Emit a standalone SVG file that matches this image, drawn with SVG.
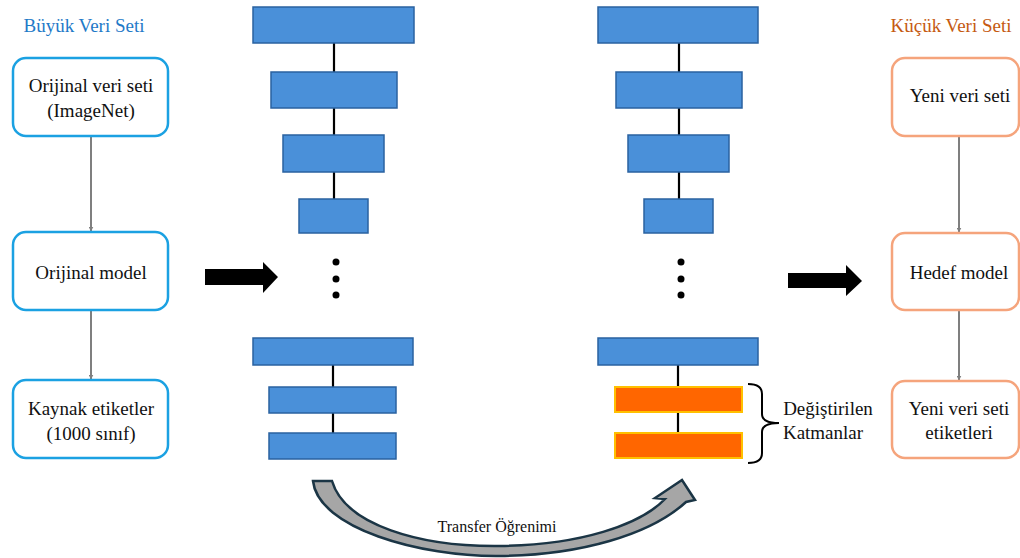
<svg xmlns="http://www.w3.org/2000/svg" width="1020" height="558" viewBox="0 0 1020 558">
<defs>
<marker id="ah" viewBox="0 0 10 10" refX="9" refY="5" markerWidth="5" markerHeight="5" orient="auto" markerUnits="userSpaceOnUse">
<path d="M0,0 L10,5 L0,10 z" fill="#7f7f7f"/>
</marker>
</defs>
<style>
text{font-family:"Liberation Serif","Times New Roman",serif;fill:#111;text-anchor:middle}
.t{font-size:19px}
.bl{fill:#fff;stroke:#1ba1e2;stroke-width:2.5}
.or{fill:#fff;stroke:#f5a47c;stroke-width:2.5}
.conn{stroke:#7f7f7f;stroke-width:2;fill:none}
.layer{fill:#4a90d9;stroke:#2a62a0;stroke-width:1.5}
.mod{fill:#ff6600;stroke:#ffc000;stroke-width:2}
.link{stroke:#000;stroke-width:2.2}
</style>
<rect width="1020" height="558" fill="#fff"/>

<text x="84" y="32" class="t" style="fill:#1f7ac8">Büyük Veri Seti</text>
<text x="951" y="32" class="t" style="fill:#c55a11">Küçük Veri Seti</text>

<g id="connectors">
<line x1="91" y1="137" x2="91" y2="231" class="conn" marker-end="url(#ah)"/>
<line x1="91" y1="311" x2="91" y2="379" class="conn" marker-end="url(#ah)"/>
<line x1="959" y1="137" x2="959" y2="232" class="conn" marker-end="url(#ah)"/>
<line x1="959" y1="311" x2="959" y2="380" class="conn" marker-end="url(#ah)"/>
<line x1="334" y1="43" x2="334" y2="72" class="link"/>
<line x1="334" y1="108" x2="334" y2="135" class="link"/>
<line x1="334" y1="172" x2="334" y2="199" class="link"/>
<line x1="333" y1="365" x2="333" y2="387" class="link"/>
<line x1="333" y1="413" x2="333" y2="433" class="link"/>
<line x1="679" y1="43" x2="679" y2="72" class="link"/>
<line x1="679" y1="108" x2="679" y2="135" class="link"/>
<line x1="679" y1="172" x2="679" y2="199" class="link"/>
<line x1="678" y1="365" x2="678" y2="387" class="link"/>
<line x1="678" y1="412" x2="678" y2="433" class="link"/>
<polygon points="205,269 263,269 263,262 278,277 263,293 263,285 205,285" fill="#000"/>
<polygon points="788,273 846,273 846,265 862,281 846,296 846,288 788,288" fill="#000"/>
<path d="M313,481 C318,528 420,557 500,556 C580,555 650,535 686,502 L695,500 L682,480 L655,498 L665,499 C640,525 580,545 500,546 C420,547 345,525 332,481 Z" fill="#a6a6a6" stroke="#1b3545" stroke-width="2.5" stroke-linejoin="miter"/>
<text x="497" y="532" style="font-size:16px">Transfer Öğrenimi</text>
</g>

<g id="n-orijinal-veri">
<rect x="13" y="58" width="155" height="78" rx="13" class="bl"/>
<text x="91" y="92" class="t">Orijinal veri seti</text>
<text x="91" y="117" class="t">(ImageNet)</text>
</g>
<g id="n-orijinal-model">
<rect x="13" y="232" width="155" height="78" rx="13" class="bl"/>
<text x="91" y="279" class="t">Orijinal model</text>
</g>
<g id="n-kaynak">
<rect x="13" y="380" width="155" height="78" rx="13" class="bl"/>
<text x="91" y="415" class="t">Kaynak etiketler</text>
<text x="91" y="440" class="t">(1000 sınıf)</text>
</g>

<g id="n-source-net">
<rect x="253" y="7" width="161" height="36" class="layer"/>
<rect x="271" y="72" width="126" height="36" class="layer"/>
<rect x="283" y="135" width="101" height="37" class="layer"/>
<rect x="299" y="199" width="69" height="34" class="layer"/>
<circle cx="336" cy="262" r="3.5" fill="#000"/>
<circle cx="336" cy="279" r="3.5" fill="#000"/>
<circle cx="336" cy="295" r="3.5" fill="#000"/>
<rect x="253" y="338" width="160" height="27" class="layer"/>
<rect x="269" y="387" width="127" height="26" class="layer"/>
<rect x="269" y="433" width="127" height="26" class="layer"/>
</g>

<g id="n-target-net">
<rect x="598" y="7" width="160" height="36" class="layer"/>
<rect x="616" y="72" width="126" height="36" class="layer"/>
<rect x="628" y="135" width="101" height="37" class="layer"/>
<rect x="644" y="199" width="69" height="34" class="layer"/>
<circle cx="681" cy="262" r="3.5" fill="#000"/>
<circle cx="681" cy="279" r="3.5" fill="#000"/>
<circle cx="681" cy="295" r="3.5" fill="#000"/>
<rect x="598" y="338" width="160" height="27" class="layer"/>
<rect x="615" y="387" width="127" height="25" class="mod"/>
<rect x="615" y="433" width="127" height="25" class="mod"/>
</g>

<g id="n-brace">
<path d="M748,384 Q762,384 762,394 L762,414 Q762,423 779,423 Q762,423 762,432 L762,453 Q762,463 748,463" fill="none" stroke="#000" stroke-width="2"/>
<text x="828" y="415" class="t">Değiştirilen</text>
<text x="823" y="439" class="t">Katmanlar</text>
</g>

<g id="n-yeni-veri">
<rect x="892" y="58" width="127" height="78" rx="13" class="or"/>
<text x="960" y="102" class="t">Yeni veri seti</text>
</g>
<g id="n-hedef">
<rect x="892" y="233" width="127" height="77" rx="13" class="or"/>
<text x="959" y="279" class="t">Hedef model</text>
</g>
<g id="n-yeni-etiket">
<rect x="892" y="381" width="127" height="77" rx="13" class="or"/>
<text x="959" y="415" class="t">Yeni veri seti</text>
<text x="959" y="439" class="t">etiketleri</text>
</g>
</svg>
